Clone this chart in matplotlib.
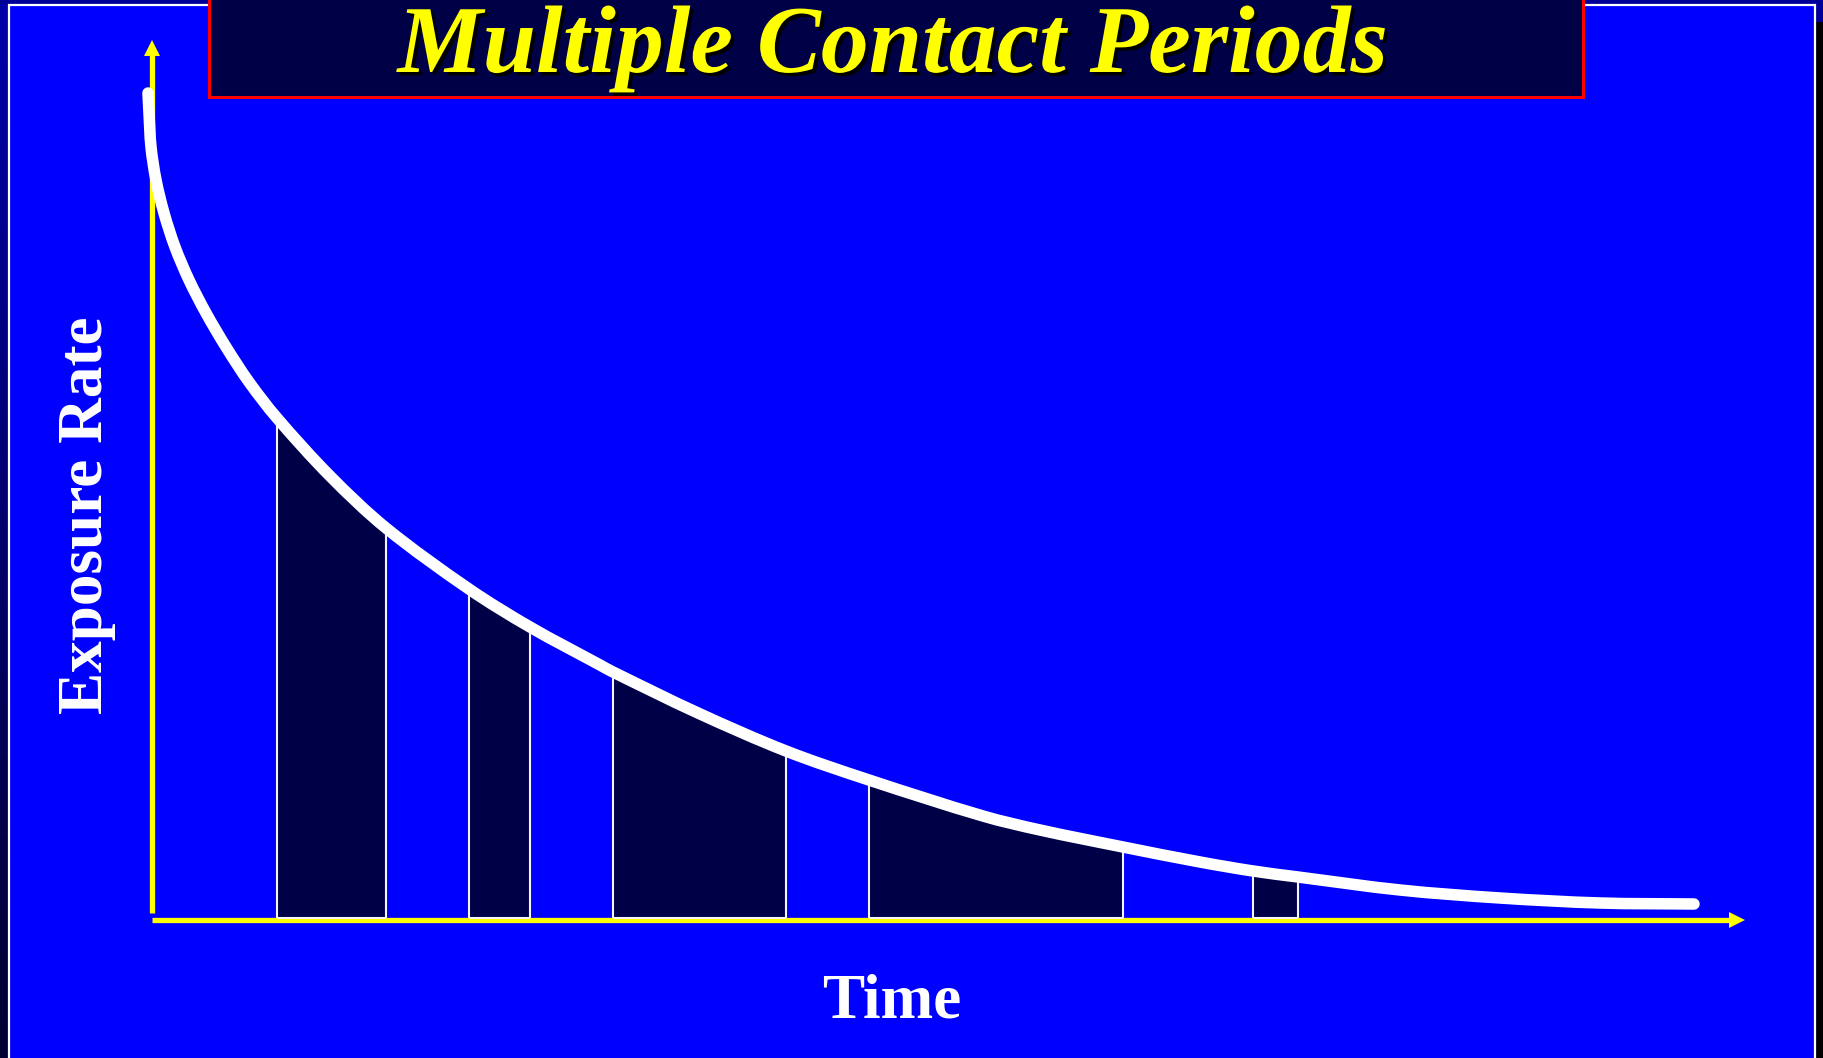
"""Exposure rate decaying with time, with the contact periods shaded."""
import matplotlib

matplotlib.use("Agg")
import matplotlib.pyplot as plt
import matplotlib.patheffects as pe
from matplotlib.patches import PathPatch, Rectangle
from matplotlib.path import Path
import numpy as np

W, H = 1824, 1058

BLUE = "#0000FF"
NAVY = "#000046"
YELLOW = "#FFFF00"

TITLE = "Multiple Contact Periods"
XLABEL = "Time"
YLABEL = "Exposure Rate"

# decay curve, sampled along its length
time = [-0.04, -0.03, -0.01, 0.04, 0.12, 0.23, 0.37, 0.54, 0.74, 0.97,
        1.25, 1.78, 2.34, 3.17, 3.78, 4.48, 4.61, 5.46, 6.34, 7.17,
        8.31, 8.88, 9.71, 10.48, 11.01, 11.46, 12.48, 13.48, 14.48, 15.42]
rate = [8.27, 8.07, 7.73, 7.40, 7.07, 6.73, 6.40, 6.07, 5.73, 5.38,
        5.02, 4.44, 3.92, 3.31, 2.93, 2.55, 2.48, 2.07, 1.69, 1.40,
        1.04, 0.90, 0.73, 0.58, 0.49, 0.43, 0.30, 0.22, 0.17, 0.16]

# contact periods
period_start = [1.25, 3.17, 4.61, 7.17, 11.01]
period_end = [2.34, 3.78, 6.34, 9.71, 11.46]


def px(x, y):
    """Pixel position (from top-left) to figure fraction."""
    return x / W, 1 - y / H


def bezier_segments(x, y):
    """Cubic Bezier control points for a smooth curve through the samples."""
    p = np.column_stack([x, y]).astype(float)
    n = len(p)
    tang = np.zeros_like(p)
    for i in range(n):
        d = p[min(i + 1, n - 1)] - p[max(i - 1, 0)]
        tang[i] = d / np.hypot(*d)
    segs = []
    for i in range(n - 1):
        step = np.hypot(*(p[i + 1] - p[i])) / 3
        segs.append((p[i] + tang[i] * step, p[i + 1] - tang[i + 1] * step, p[i + 1]))
    return p, segs


fig = plt.figure(figsize=(W / 100, H / 100), dpi=100)
fig.patch.set_facecolor("black")

# slide background and title bar, laid out in pixels
bg = fig.add_axes([0, 0, 1, 1])
bg.set_axis_off()
grad = np.linspace(170, 50, 200)[:, None] / 255.0
left_strip = np.dstack([np.zeros_like(grad), np.zeros_like(grad), grad])
bg.imshow(left_strip, extent=[0, 9, H, 0], aspect="auto", zorder=0)
bg.add_patch(Rectangle((0, 0), W, 5, color="#000099", lw=0, zorder=0))
bg.add_patch(Rectangle((1815, 0), 9, 22, color="#000099", lw=0, zorder=0))
bg.add_patch(Rectangle((9, 5), 1806, H, facecolor=BLUE, edgecolor="white",
                       lw=1.6, zorder=1))
bg.add_patch(Rectangle((209, -20), 1374, 117, facecolor=NAVY, edgecolor="#FF0000",
                       lw=2.2, zorder=2))
bg.set_xlim(0, W)
bg.set_ylim(H, 0)

bg.text(893, 72, TITLE, color=YELLOW, family="Liberation Serif", weight="bold",
        style="italic", fontsize=69, ha="center", va="baseline", zorder=3,
        path_effects=[pe.withSimplePatchShadow(offset=(2.4, -2.4),
                                               shadow_rgbFace="black", alpha=1.0)])

# chart area: 1 time unit = 100 px, origin at the axes corner
ax = fig.add_axes([0, 0, 1, 1])
ax.set_axis_off()
ax.patch.set_alpha(0)
ax.set_xlim(-1.52, 16.72)
ax.set_ylim(-1.38, 9.20)

t = np.array(time)
r = np.array(rate)
pts, segs = bezier_segments(t, r)

# shaded area under the curve for each contact period
for s, e in zip(period_start, period_end):
    i0 = int(np.argmin(np.abs(t - s)))
    i1 = int(np.argmin(np.abs(t - e)))
    verts = [(t[i0], 0), pts[i0]]
    codes = [Path.MOVETO, Path.LINETO]
    for c1, c2, end in segs[i0:i1]:
        verts += [c1, c2, end]
        codes += [Path.CURVE4] * 3
    verts += [(t[i1], 0), (t[i0], 0)]
    codes += [Path.LINETO, Path.CLOSEPOLY]
    ax.add_patch(PathPatch(Path(verts, codes), facecolor=NAVY, lw=0, zorder=1))

ax.plot([0, 15.77], [0, 0], color=YELLOW, lw=3.8, solid_capstyle="butt", zorder=2)
ax.plot([0, 0], [0.07, 8.66], color=YELLOW, lw=3.8, solid_capstyle="butt", zorder=2)
head = dict(arrowstyle="-|>,head_length=1.0,head_width=0.5", color=YELLOW,
            lw=0, mutation_scale=11.5, shrinkA=0, shrinkB=0)
ax.annotate("", xy=(15.93, 0), xytext=(15.6, 0), arrowprops=head, zorder=2)
ax.annotate("", xy=(0, 8.80), xytext=(0, 8.5), arrowprops=head, zorder=2)

edges = period_start + period_end
edge_rate = [r[np.argmin(np.abs(t - b))] for b in edges]
ax.vlines(edges, 0.02, edge_rate, color="#F4F4FF", lw=1.5, zorder=3)
ax.hlines([0.02] * len(period_start), period_start, period_end,
          color="#F4F4FF", lw=1.5, zorder=3)

# the decay curve itself
verts = [pts[0]]
codes = [Path.MOVETO]
for c1, c2, end in segs:
    verts += [c1, c2, end]
    codes += [Path.CURVE4] * 3
ax.add_patch(PathPatch(Path(verts, codes), fill=False, edgecolor="white", lw=8.3,
                       capstyle="round", joinstyle="round", zorder=5))

fig.text(*px(892, 1018), XLABEL, color="white", family="Liberation Serif",
         weight="bold", fontsize=45.5, ha="center", va="baseline")
fig.text(*px(87, 515), YLABEL, color="white", family="Liberation Serif",
         weight="bold", fontsize=45.5, ha="center", va="center", rotation=90)

fig.savefig("out.png", dpi=100, facecolor=fig.get_facecolor())
